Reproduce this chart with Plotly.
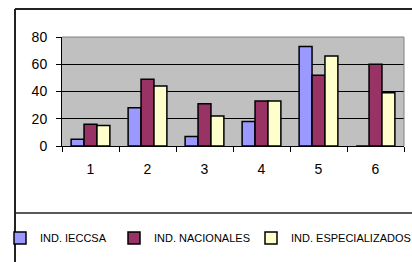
import plotly.graph_objects as go

categories = ["1", "2", "3", "4", "5", "6"]
ieccsa = [5, 28, 7, 18, 73, 0]
nacionales = [16, 49, 31, 33, 52, 60]
especializados = [15, 44, 22, 33, 66, 39]
y_ticks = [0, 20, 40, 60, 80]

W, H = 412, 262
px_x0, px_x1 = 62, 404
px_y0, px_y1 = 37, 146  # top, bottom

def fx(p):
    return p / W

def fy(p):
    return 1 - p / H

fig = go.Figure()
series = [
    ("IND. IECCSA", ieccsa, "#9999FF", "legend", 38),
    ("IND. NACIONALES", nacionales, "#993366", "legend2", 154),
    ("IND. ESPECIALIZADOS", especializados, "#FFFFCC", "legend3", 291),
]
font_family = "Liberation Sans, Arial, sans-serif"
legend_layout = {}
for name, vals, col, leg, text_x in series:
    fig.add_trace(go.Bar(
        x=categories, y=vals, name=name, legend=leg,
        marker=dict(color=col, line=dict(color="black", width=1.5)),
    ))
    legend_layout[leg] = dict(
        orientation="h",
        xref="container", yref="container",
        x=fx(text_x - 40), xanchor="left",
        y=fy(238), yanchor="middle",
        font=dict(size=11, family=font_family, color="black"),
        bgcolor="rgba(0,0,0,0)",
        borderwidth=0,
    )

fig.update_layout(
    width=W, height=H,
    margin=dict(l=0, r=0, t=0, b=0, autoexpand=False),
    paper_bgcolor="white",
    plot_bgcolor="#C0C0C0",
    barmode="group",
    bargap=0.32,
    bargroupgap=0,
    font=dict(family=font_family, color="black"),
    xaxis=dict(
        domain=[fx(px_x0), fx(px_x1)],
        type="category",
        showgrid=False,
        showline=True, linecolor="black", linewidth=1,
        ticks="outside", tickson="boundaries", ticklen=5, tickcolor="black",
        tickfont=dict(size=14),
        ticklabelstandoff=10,
        automargin=False,
    ),
    yaxis=dict(
        domain=[fy(px_y1), fy(px_y0)],
        range=[0, 80],
        tickvals=y_ticks,
        showgrid=True, gridcolor="black", gridwidth=1,
        showline=True, linecolor="black", linewidth=1,
        ticks="outside", ticklen=5, tickcolor="black",
        tickfont=dict(size=14),
        ticklabelstandoff=6,
        zeroline=False,
        automargin=False,
    ),
    showlegend=True,
    shapes=[
        dict(type="line", xref="paper", yref="paper",
             x0=fx(px_x0), x1=fx(px_x1), y0=fy(px_y0), y1=fy(px_y0),
             line=dict(color="#808080", width=1)),
        dict(type="line", xref="paper", yref="paper",
             x0=fx(px_x1), x1=fx(px_x1), y0=fy(px_y0), y1=fy(px_y1),
             line=dict(color="#808080", width=1)),
        dict(type="line", xref="paper", yref="paper",
             x0=fx(15), x1=fx(412), y0=fy(9), y1=fy(9),
             line=dict(color="#222222", width=2)),
        dict(type="line", xref="paper", yref="paper",
             x0=fx(15), x1=fx(15), y0=fy(9), y1=fy(262),
             line=dict(color="#222222", width=2)),
        dict(type="line", xref="paper", yref="paper",
             x0=fx(15), x1=fx(412), y0=fy(213), y1=fy(213),
             line=dict(color="#222222", width=1.5)),
    ],
    **legend_layout,
)

fig.write_html(
    "out.html",
    config={"displayModeBar": False},
    post_script="document.body.style.margin='0px';document.body.style.padding='0px';",
)
